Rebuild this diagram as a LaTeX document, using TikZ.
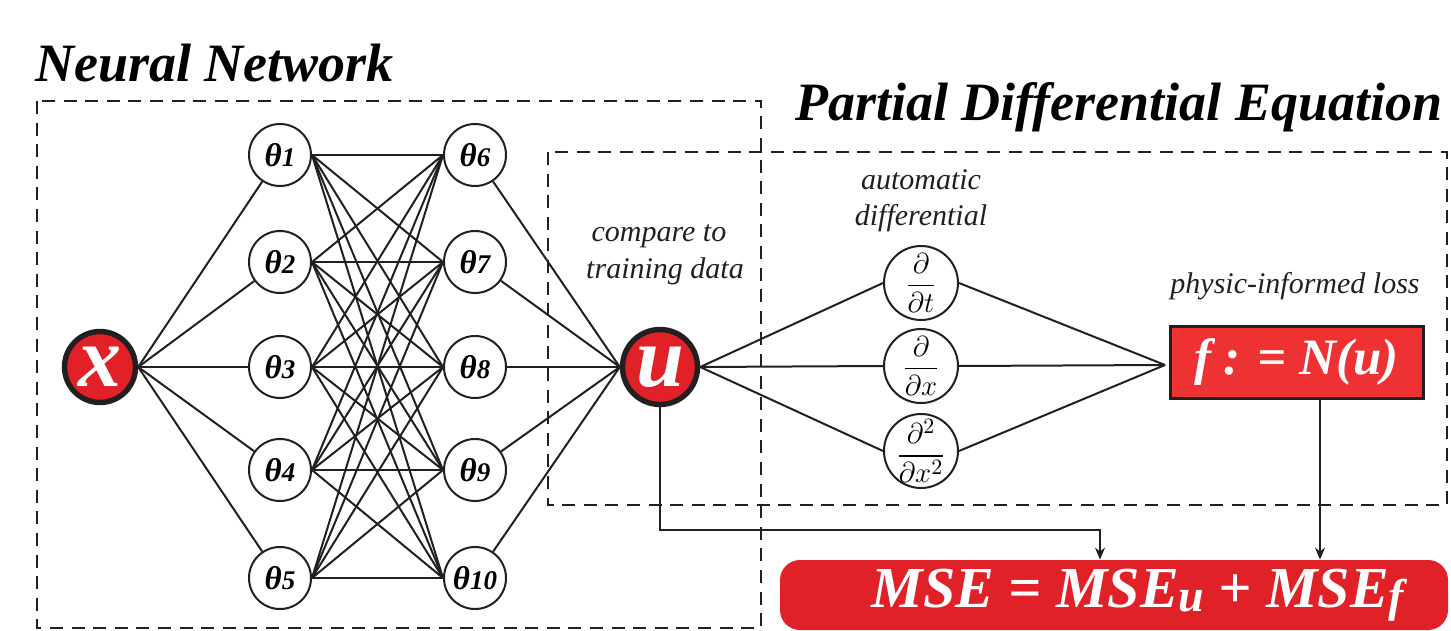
\documentclass[tikz,border=0pt]{standalone}
\usepackage{amsmath}
\usepackage{fontspec}
\setmainfont{Liberation Serif}
\usetikzlibrary{arrows.meta,calc}
\definecolor{redA}{RGB}{224,33,39}
\definecolor{redB}{RGB}{238,49,51}
\definecolor{edgeC}{RGB}{35,31,32}
\newcommand\thlab[1]{{\fontsize{16.5}{16.5}\selectfont\bfseries\itshape θ}{\fontsize{13.5}{13.5}\selectfont\bfseries\itshape #1}}
\newcommand\sublab[1]{\raisebox{-2pt}{\fontsize{23}{23}\selectfont #1}}
\begin{document}
\begin{tikzpicture}[x=0.5pt,y=-0.5pt,
  theta/.style={circle,draw=edgeC,line width=1pt,minimum size=31pt,inner sep=0pt},
  bigred/.style={circle,draw=edgeC,fill=redA,line width=2.7pt,inner sep=0pt,text=white,font=\fontsize{43}{43}\selectfont\bfseries\itshape},
  dnode/.style={circle,draw=edgeC,line width=1pt,minimum size=37pt,inner sep=-4pt,font=\fontsize{15}{15}\selectfont},
  edge/.style={draw=edgeC,line width=1pt},
  frame/.style={draw=edgeC,line width=1.25pt,dash pattern=on 6.5pt off 4.3pt},
  title/.style={font=\fontsize{27}{27}\selectfont\bfseries\itshape,anchor=base west,inner sep=0pt},
  lab/.style={font=\fontsize{15}{15}\selectfont\itshape,anchor=base,inner sep=0pt,text=edgeC},
  arr/.style={draw=edgeC,line width=0.6pt,-{Stealth[length=6pt,width=5pt]}}
]
\useasboundingbox (0,0) rectangle (1451,631);
% frames
\draw[frame] (37,101) rectangle (761,628);
\draw[frame] (548,152) rectangle (1447,505);
% titles
\node[title] (tnn) at (35,82) {Neural Network};
\node[title] (tpde) at (795,120) {Partial Differential Equation};
% labels
\node[lab] (lc1) at (659,242) {compare to};
\node[lab] (lc2) at (665,278) {training data};
\node[lab] (la1) at (921,190) {automatic};
\node[lab] (la2) at (921,225) {differential};
\node[lab] (lp) at (1295,293) {physic-informed loss};
% nodes
\node[bigred,minimum size=35.5pt] (x) at (100,367) {x};
\node[bigred,minimum size=37.5pt] (u) at (660,367) {u};
\foreach \i/\y in {1/155,2/262,3/367,4/470,5/578}{
  \node[theta] (t\i) at (280,\y) {\thlab{\i}};
}
\foreach \i/\y in {6/155,7/262,8/367,9/470,10/578}{
  \node[theta] (t\i) at (475,\y) {\thlab{\i}};
}
\node[dnode] (d1) at (921,283) {$\dfrac{\partial}{\partial t}$};
\node[dnode] (d2) at (921,366) {$\dfrac{\partial}{\partial x}$};
\node[dnode] (d3) at (921,451) {$\dfrac{\partial^2}{\partial x^2}$};
\node[draw=edgeC,fill=redB,line width=1.5pt,minimum width=126.5pt,minimum height=36pt,inner sep=0pt,text=white,font=\fontsize{25.5}{25.5}\selectfont\bfseries\itshape] (f) at (1296.5,362) {f : = N(u)};
\node[fill=redA,rounded corners=10pt,minimum width=334pt,minimum height=35pt,inner sep=0pt,text=white,font=\fontsize{29}{29}\selectfont\bfseries\itshape] (mse) at (1114,595) {\hspace*{24pt}MSE = MSE\sublab{u} + MSE\sublab{f}};
% edges x -> layer 1
\foreach \i in {1,...,5}{ \draw[edge] (x.east) -- (t\i); }
% layer1 -> layer2
\foreach \i in {1,...,5}{
  \foreach \j in {6,...,10}{ \draw[edge] (t\i.east) -- (t\j.west); }
}
% layer2 -> u
\foreach \j in {6,...,10}{ \draw[edge] (t\j) -- (u.west); }
% u -> derivatives
\foreach \k in {1,2,3}{ \draw[edge] (u.east) -- (d\k.west); }
\coordinate (fin) at (1165,365);
\foreach \k in {1,2,3}{ \draw[edge] (d\k.east) -- (fin); }
% to MSE
\coordinate (c1) at (1100,530);
\draw[arr] (u.south) |- (c1) -- (c1 |- mse.north);
\coordinate (fx) at (1320,0);
\draw[arr] (fx |- f.south) -- (fx |- mse.north);
\end{tikzpicture}
\end{document}
